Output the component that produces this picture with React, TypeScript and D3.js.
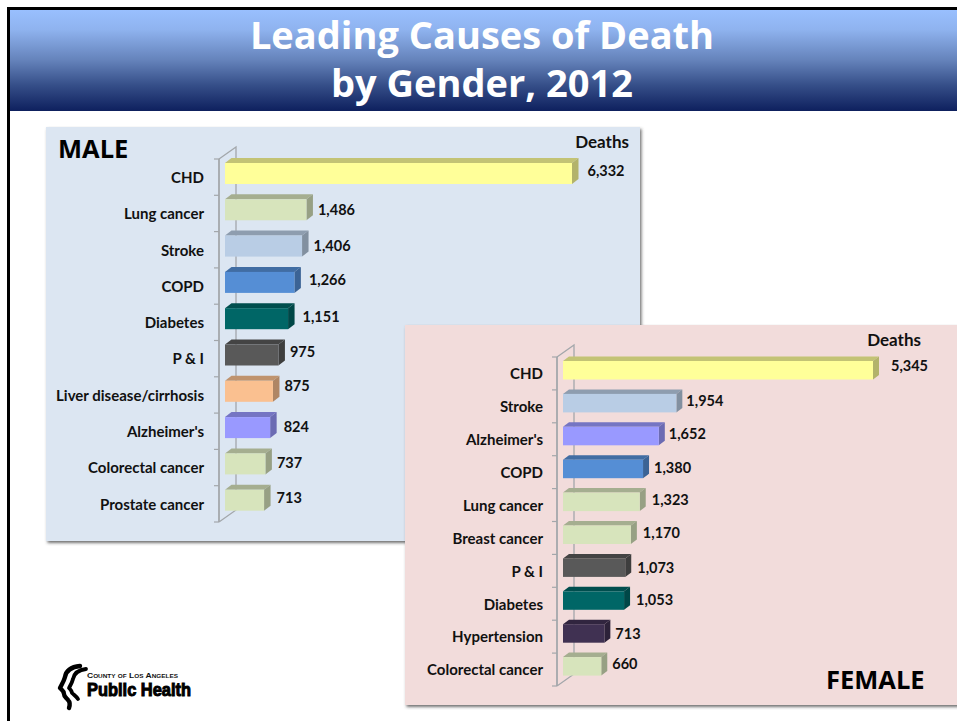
import React from "react";
import * as d3 from "d3";

const maleCauses = ["CHD", "Lung cancer", "Stroke", "COPD", "Diabetes", "P & I", "Liver disease/cirrhosis", "Alzheimer's", "Colorectal cancer", "Prostate cancer"];
const maleDeaths = [6332, 1486, 1406, 1266, 1151, 975, 875, 824, 737, 713];
const femaleCauses = ["CHD", "Stroke", "Alzheimer's", "COPD", "Lung cancer", "Breast cancer", "P & I", "Diabetes", "Hypertension", "Colorectal cancer"];
const femaleDeaths = [5345, 1954, 1652, 1380, 1323, 1170, 1073, 1053, 713, 660];

// the value labels in the slide were placed by hand, so they are not quite regular
const maleNudgeX = [9, 5, 5, 8, 8, 5, 5, 7, 5, 6];
const maleNudgeY = [-6, -4, -4, -6, -5, -7, -9, -4, -5, -6];
const femaleNudgeX = [12, 4, 4, 5, 6, 6, 6, 6, 5, 5];
const femaleNudgeY = [-8, -5, -5, -4, -5, -5, -3, -4, -3, -6];

const causeColor: Record<string, string> = {
  CHD: "#ffff99",
  "Lung cancer": "#d7e4bc",
  Stroke: "#b9cde5",
  COPD: "#558ed5",
  Diabetes: "#006666",
  "P & I": "#595959",
  "Liver disease/cirrhosis": "#fac090",
  "Alzheimer's": "#9999ff",
  "Colorectal cancer": "#d7e4bc",
  "Prostate cancer": "#d7e4bc",
  "Breast cancer": "#d7e4bc",
  Hypertension: "#403152",
};

const labelFont = "Lato, 'Noto Sans', sans-serif";
const axisColor = "#a3a7ab";

type PanelProps = {
  causes: string[];
  deaths: number[];
  nudgeX: number[];
  nudgeY: number[];
  x0: number; // front axis
  barX0: number;
  barX1: number; // where the largest bar ends
  y0: number;
  y1: number;
  padTop: number;
  barH: number;
  depthX: number;
  depthY: number;
  labelRight: number;
};

const Bars = (props: PanelProps) => {
  const { causes, deaths, nudgeX, nudgeY, x0, barX0, barX1, y0, y1, padTop, barH, depthX, depthY, labelRight } = props;

  const x = d3.scaleLinear().domain([0, d3.max(deaths) as number]).range([barX0, barX1]);
  const y = d3.scaleBand().domain(causes).range([y0, y1]);
  const backX = x0 + 17;
  const rise = 12;
  const ticks = d3.range(causes.length + 1).map((i) => y0 + i * y.step());

  return (
    <g>
      <path d={`M${x0},${y0}L${backX},${y0 - rise}V${y1 - rise}L${x0},${y1}`} fill="none" stroke={axisColor} strokeWidth={1.3} />
      <path d={`M${x0},${y0}V${y1}`} stroke={axisColor} strokeWidth={1.8} />
      {ticks.map((t) => (
        <path key={t} d={`M${x0 - 5},${t}H${x0}`} stroke={axisColor} strokeWidth={1.2} />
      ))}
      {causes.map((c, i) => {
        const top = (y(c) as number) + padTop;
        const right = x(deaths[i]);
        const base = causeColor[c];
        const topCol = d3.color(base)!.darker(0.75).formatHex();
        const sideCol = d3.color(base)!.darker(1).formatHex();
        const mid = (y(c) as number) + y.bandwidth() / 2;
        return (
          <g key={c}>
            <path d={`M${barX0},${top}l${depthX},${-depthY}H${right + depthX}L${right},${top}Z`} fill={topCol} />
            <path d={`M${right},${top}l${depthX},${-depthY}v${barH}l${-depthX},${depthY}Z`} fill={sideCol} />
            <rect x={barX0} y={top} width={right - barX0} height={barH} fill={base} />
            <text x={labelRight} y={mid + 0.5} dy="0.35em" textAnchor="end" fontFamily={labelFont} fontWeight={700} fontSize={15} fill="#111">
              {c}
            </text>
            <text x={right + depthX + nudgeX[i]} y={mid + nudgeY[i]} dy="0.35em" fontFamily={labelFont} fontWeight={700} fontSize={14.5} fill="#111">
              {d3.format(",")(deaths[i])}
            </text>
          </g>
        );
      })}
    </g>
  );
};

const Logo = () => (
  <g>
    <g fill="none" stroke="#000" strokeLinecap="round" strokeLinejoin="round">
      <path d="M80,666C70,667 66,671 65,677C64,681 62,684 60,688C62,690 64,691 64,694C64,697 67,698 68,700C70,702 70,705 69,708" strokeWidth={4.4} />
      <path d="M86,669C77,670 74,674 73,679C72,683 70,686 69,688C71,690 72,691 72,693C74,695 76,696 78,699" strokeWidth={3.8} />
    </g>
    <text x={87} y={678} fontFamily="'Liberation Sans', sans-serif" fontWeight={700} fontSize={8} fill="#111" textLength={91} lengthAdjust="spacingAndGlyphs" style={{ fontVariant: "small-caps" }}>
      County of Los Angeles
    </text>
    <text x={87} y={696} fontFamily="'Liberation Sans', sans-serif" fontWeight={700} fontSize={18} fill="#000" stroke="#000" strokeWidth={1} textLength={104} lengthAdjust="spacingAndGlyphs">
      Public Health
    </text>
  </g>
);

const App = () => {
  return (
    <svg width={957} height={721} style={{ position: "absolute", left: 0, top: 0, background: "#fff" }}>
      <defs>
        <linearGradient id="head" x1="0" y1="0" x2="0" y2="1">
          <stop offset="0" stopColor="#99c0ff" />
          <stop offset="0.2" stopColor="#8fb3ef" />
          <stop offset="0.5" stopColor="#6583bb" />
          <stop offset="0.75" stopColor="#354e88" />
          <stop offset="1" stopColor="#0e205e" />
        </linearGradient>
        <filter id="shadow" x="-3%" y="-3%" width="106%" height="106%">
          <feDropShadow dx="1.5" dy="2" stdDeviation="1.6" floodColor="#444" floodOpacity="0.75" />
        </filter>
      </defs>

      <rect x={9} y={9} width={948} height={102} fill="url(#head)" />
      <path d="M8.5,721V8.5H957" fill="none" stroke="#000" strokeWidth={3} />
      <text x={482} y={49} textAnchor="middle" fontFamily="'Open Sans', sans-serif" fontWeight={700} fontSize={38} fill="#fff">
        Leading Causes of Death
      </text>
      <text x={482} y={97} textAnchor="middle" fontFamily="'Open Sans', sans-serif" fontWeight={700} fontSize={38} fill="#fff">
        by Gender, 2012
      </text>

      <rect x={46} y={127} width={594} height={414} fill="#dce6f2" filter="url(#shadow)" />
      <text x={58} y={158} fontFamily="'Open Sans', sans-serif" fontWeight={700} fontSize={25.5} fill="#000">MALE</text>
      <text x={629} y={148} textAnchor="end" fontFamily={labelFont} fontWeight={700} fontSize={17} fill="#111">Deaths</text>
      <Bars causes={maleCauses} deaths={maleDeaths} nudgeX={maleNudgeX} nudgeY={maleNudgeY} x0={219} barX0={225} barX1={572} y0={159} y1={522} padTop={4} barH={21} depthX={6.5} depthY={5} labelRight={204} />

      <rect x={405} y={325} width={556} height={380} fill="#f2dcdb" filter="url(#shadow)" />
      <text x={921} y={346} textAnchor="end" fontFamily={labelFont} fontWeight={700} fontSize={17} fill="#111">Deaths</text>
      <text x={826} y={689} fontFamily="'Open Sans', sans-serif" fontWeight={700} fontSize={25.5} fill="#000">FEMALE</text>
      <Bars causes={femaleCauses} deaths={femaleDeaths} nudgeX={femaleNudgeX} nudgeY={femaleNudgeY} x0={557} barX0={563} barX1={873} y0={357} y1={686} padTop={4} barH={18.5} depthX={6} depthY={4.5} labelRight={543} />

      <Logo />
    </svg>
  );
};

export default App;
